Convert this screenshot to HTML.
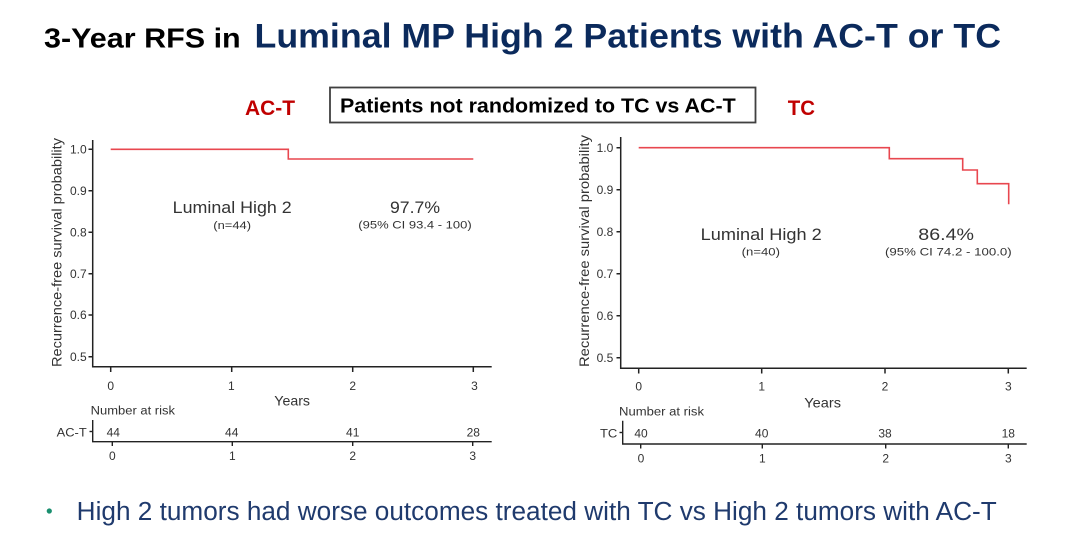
<!DOCTYPE html>
<html>
<head>
<meta charset="utf-8">
<style>
  html,body{margin:0;padding:0;background:#fff;}
  svg{display:block;}
  text{font-family:"Liberation Sans", Arial, sans-serif;}
</style>
</head>
<body>
<svg width="1080" height="559" viewBox="0 0 1080 559" xmlns="http://www.w3.org/2000/svg">
  <rect width="1080" height="559" fill="#fff"/>

  <!-- Title -->
  <text x="44" y="47.6" font-size="28" font-weight="bold" fill="#000" textLength="196.7" lengthAdjust="spacingAndGlyphs">3-Year RFS in</text>
  <text x="254.5" y="47.6" font-size="34" font-weight="bold" fill="#0b2a5c" textLength="746.5" lengthAdjust="spacingAndGlyphs">Luminal MP High 2 Patients with AC-T or TC</text>

  <!-- Headers -->
  <text x="245" y="115" font-size="21" font-weight="bold" fill="#c00000" textLength="50" lengthAdjust="spacingAndGlyphs">AC-T</text>
  <rect x="330" y="87.5" width="425.5" height="35" fill="#fff" stroke="#404040" stroke-width="1.8"/>
  <text x="340" y="112.7" font-size="20" font-weight="bold" fill="#000" textLength="395.7" lengthAdjust="spacingAndGlyphs">Patients not randomized to TC vs AC-T</text>
  <text x="787.7" y="115" font-size="21" font-weight="bold" fill="#c00000" textLength="27.3" lengthAdjust="spacingAndGlyphs">TC</text>

  <!-- ============ LEFT CHART ============ -->
  <g fill="none" stroke="#222" stroke-width="1.5">
    <path d="M92.7 140 V366.7 H491.7"/>
    <path d="M88.5 149.3 H92.7 M88.5 190.7 H92.7 M88.5 232.3 H92.7 M88.5 273.7 H92.7 M88.5 315 H92.7 M88.5 356.7 H92.7"/>
    <path d="M110.7 366.7 V372 M231.7 366.7 V372 M352.7 366.7 V372 M473.3 366.7 V372"/>
  </g>
  <g font-size="12" fill="#333" text-anchor="end">
    <text x="86.7" y="153.5">1.0</text>
    <text x="86.7" y="194.9">0.9</text>
    <text x="86.7" y="236.5">0.8</text>
    <text x="86.7" y="277.9">0.7</text>
    <text x="86.7" y="319.2">0.6</text>
    <text x="86.7" y="360.9">0.5</text>
  </g>
  <text transform="translate(61.5,252.5) rotate(-90)" text-anchor="middle" font-size="13.5" fill="#333" textLength="229" lengthAdjust="spacingAndGlyphs">Recurrence-free survival probability</text>
  <path d="M110.7 149.3 H288.3 V159 H473.3" fill="none" stroke="#e8474f" stroke-width="1.6"/>
  <text x="172.7" y="213" font-size="17" fill="#333" textLength="119" lengthAdjust="spacingAndGlyphs">Luminal High 2</text>
  <text x="213.3" y="229" font-size="11" fill="#333" textLength="37.7" lengthAdjust="spacingAndGlyphs">(n=44)</text>
  <text x="390" y="213" font-size="17" fill="#333" textLength="50" lengthAdjust="spacingAndGlyphs">97.7%</text>
  <text x="358.3" y="228.3" font-size="11" fill="#333" textLength="113.4" lengthAdjust="spacingAndGlyphs">(95% CI 93.4 - 100)</text>
  <g font-size="12" fill="#333" text-anchor="middle">
    <text x="110.7" y="390">0</text>
    <text x="231.3" y="390">1</text>
    <text x="352.7" y="390">2</text>
    <text x="474.5" y="390">3</text>
  </g>
  <text x="274.3" y="405.7" font-size="14" fill="#333" textLength="35.7" lengthAdjust="spacingAndGlyphs">Years</text>
  <text x="90.7" y="414.3" font-size="11.5" fill="#333" textLength="84.3" lengthAdjust="spacingAndGlyphs">Number at risk</text>
  <g fill="none" stroke="#222" stroke-width="1.4">
    <path d="M92.7 420 V441.7 H491.7"/>
    <path d="M89.5 431.5 H92.7"/>
    <path d="M112.3 441.7 V446 M232.3 441.7 V446 M352.7 441.7 V446 M472.7 441.7 V446"/>
  </g>
  <text x="56.7" y="436.7" font-size="12" fill="#333" textLength="30" lengthAdjust="spacingAndGlyphs">AC-T</text>
  <g font-size="12" fill="#333" text-anchor="middle">
    <text x="113.3" y="436.7">44</text>
    <text x="231.7" y="436.7">44</text>
    <text x="352.7" y="436.7">41</text>
    <text x="473.3" y="436.7">28</text>
    <text x="112.3" y="460">0</text>
    <text x="232.3" y="460">1</text>
    <text x="352.7" y="460">2</text>
    <text x="472.7" y="460">3</text>
  </g>

  <!-- ============ RIGHT CHART ============ -->
  <g fill="none" stroke="#222" stroke-width="1.5">
    <path d="M620.7 137 V368.3 H1026.7"/>
    <path d="M616.5 147.7 H620.7 M616.5 189.7 H620.7 M616.5 231.7 H620.7 M616.5 273.7 H620.7 M616.5 315.7 H620.7 M616.5 357.7 H620.7"/>
    <path d="M638.7 368.3 V373.5 M761.7 368.3 V373.5 M885 368.3 V373.5 M1008.3 368.3 V373.5"/>
  </g>
  <g font-size="12" fill="#333" text-anchor="end">
    <text x="613.3" y="151.9">1.0</text>
    <text x="613.3" y="193.9">0.9</text>
    <text x="613.3" y="235.9">0.8</text>
    <text x="613.3" y="277.9">0.7</text>
    <text x="613.3" y="319.9">0.6</text>
    <text x="613.3" y="361.9">0.5</text>
  </g>
  <text transform="translate(589,251) rotate(-90)" text-anchor="middle" font-size="13.5" fill="#333" textLength="232" lengthAdjust="spacingAndGlyphs">Recurrence-free survival probability</text>
  <path d="M638.7 147.7 H889.3 V158.7 H962.7 V170 H977.3 V183.7 H1008.7 V204.3" fill="none" stroke="#e8474f" stroke-width="1.6"/>
  <text x="700.7" y="240" font-size="17" fill="#333" textLength="121" lengthAdjust="spacingAndGlyphs">Luminal High 2</text>
  <text x="741.7" y="255.7" font-size="11" fill="#333" textLength="38.3" lengthAdjust="spacingAndGlyphs">(n=40)</text>
  <text x="918.3" y="240" font-size="17" fill="#333" textLength="55.7" lengthAdjust="spacingAndGlyphs">86.4%</text>
  <text x="885" y="255.7" font-size="11" fill="#333" textLength="126.7" lengthAdjust="spacingAndGlyphs">(95% CI 74.2 - 100.0)</text>
  <g font-size="12" fill="#333" text-anchor="middle">
    <text x="638.7" y="390.7">0</text>
    <text x="761.7" y="390.7">1</text>
    <text x="885" y="390.7">2</text>
    <text x="1008.3" y="390.7">3</text>
  </g>
  <text x="804.3" y="407.3" font-size="14" fill="#333" textLength="36.7" lengthAdjust="spacingAndGlyphs">Years</text>
  <text x="619" y="415.7" font-size="11.5" fill="#333" textLength="85" lengthAdjust="spacingAndGlyphs">Number at risk</text>
  <g fill="none" stroke="#222" stroke-width="1.4">
    <path d="M622.7 420.7 V444 H1026.7"/>
    <path d="M619.5 432.5 H622.7"/>
    <path d="M640.7 444 V448.5 M762.3 444 V448.5 M885.7 444 V448.5 M1008.3 444 V448.5"/>
  </g>
  <text x="600" y="437.7" font-size="12" fill="#333" textLength="17.3" lengthAdjust="spacingAndGlyphs">TC</text>
  <g font-size="12" fill="#333" text-anchor="middle">
    <text x="641" y="437.7">40</text>
    <text x="761.7" y="437.7">40</text>
    <text x="885" y="437.7">38</text>
    <text x="1008.3" y="437.7">18</text>
    <text x="641" y="462.3">0</text>
    <text x="762.3" y="462.3">1</text>
    <text x="885.7" y="462.3">2</text>
    <text x="1008.3" y="462.3">3</text>
  </g>

  <!-- Bullet -->
  <circle cx="49.3" cy="511" r="2.6" fill="#1a8f6f"/>
  <text x="76.7" y="520" font-size="25.5" fill="#1f3a6d" textLength="920" lengthAdjust="spacingAndGlyphs">High 2 tumors had worse outcomes treated with TC vs High 2 tumors with AC-T</text>
</svg>
</body>
</html>
